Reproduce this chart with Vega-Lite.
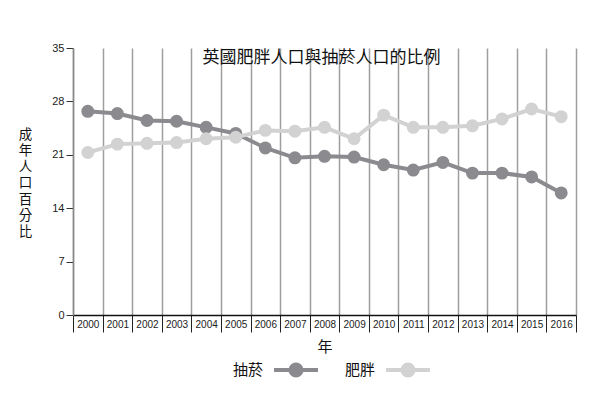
{
  "$schema": "https://vega.github.io/schema/vega-lite/v6.json",
  "width": 503,
  "height": 267,
  "autosize": {"type": "none"},
  "padding": {"left": 73, "top": 48, "right": 24, "bottom": 89},
  "background": "white",
  "title": {
    "text": "英國肥胖人口與抽菸人口的比例",
    "font": "Noto Sans CJK TC",
    "fontSize": 17,
    "fontWeight": "normal",
    "color": "#111111",
    "anchor": "middle",
    "offset": -25,
    "dx": -3
  },
  "config": {"view": {"stroke": null}, "font": "Liberation Sans"},
  "data": {
    "values": [
      {"year": "2000", "series": "抽菸", "value": 26.7},
      {"year": "2001", "series": "抽菸", "value": 26.4},
      {"year": "2002", "series": "抽菸", "value": 25.5},
      {"year": "2003", "series": "抽菸", "value": 25.4},
      {"year": "2004", "series": "抽菸", "value": 24.6},
      {"year": "2005", "series": "抽菸", "value": 23.8},
      {"year": "2006", "series": "抽菸", "value": 21.9},
      {"year": "2007", "series": "抽菸", "value": 20.6},
      {"year": "2008", "series": "抽菸", "value": 20.8},
      {"year": "2009", "series": "抽菸", "value": 20.7},
      {"year": "2010", "series": "抽菸", "value": 19.7},
      {"year": "2011", "series": "抽菸", "value": 19.0},
      {"year": "2012", "series": "抽菸", "value": 20.0},
      {"year": "2013", "series": "抽菸", "value": 18.6},
      {"year": "2014", "series": "抽菸", "value": 18.6},
      {"year": "2015", "series": "抽菸", "value": 18.1},
      {"year": "2016", "series": "抽菸", "value": 16.0},
      {"year": "2000", "series": "肥胖", "value": 21.3},
      {"year": "2001", "series": "肥胖", "value": 22.4},
      {"year": "2002", "series": "肥胖", "value": 22.5},
      {"year": "2003", "series": "肥胖", "value": 22.6},
      {"year": "2004", "series": "肥胖", "value": 23.1},
      {"year": "2005", "series": "肥胖", "value": 23.3},
      {"year": "2006", "series": "肥胖", "value": 24.2},
      {"year": "2007", "series": "肥胖", "value": 24.1},
      {"year": "2008", "series": "肥胖", "value": 24.6},
      {"year": "2009", "series": "肥胖", "value": 23.1},
      {"year": "2010", "series": "肥胖", "value": 26.2},
      {"year": "2011", "series": "肥胖", "value": 24.6},
      {"year": "2012", "series": "肥胖", "value": 24.6},
      {"year": "2013", "series": "肥胖", "value": 24.8},
      {"year": "2014", "series": "肥胖", "value": 25.7},
      {"year": "2015", "series": "肥胖", "value": 27.0},
      {"year": "2016", "series": "肥胖", "value": 26.0}
    ]
  },
  "encoding": {
    "x": {
      "field": "year",
      "type": "ordinal",
      "scale": {"type": "band", "paddingInner": 0, "paddingOuter": 0},
      "axis": {
        "title": "年",
        "titleFont": "Noto Sans CJK TC",
        "titleFontSize": 15,
        "titleFontWeight": "normal",
        "titleColor": "#111111",
        "titlePadding": 7,
        "tickBand": "extent",
        "grid": true,
        "gridColor": "#9e9e9e",
        "gridWidth": 1.5,
        "tickSize": 17,
        "tickColor": "#222222",
        "tickWidth": 1,
        "domainColor": "#111111",
        "domainWidth": 1.5,
        "labelAngle": 0,
        "labelFontSize": 10,
        "labelColor": "#222222",
        "labelPadding": -13
      }
    },
    "y": {
      "field": "value",
      "type": "quantitative",
      "scale": {"domain": [0, 35], "nice": false},
      "axis": {
        "values": [0, 7, 14, 21, 28, 35],
        "grid": false,
        "tickSize": 7,
        "tickColor": "#333333",
        "domainColor": "#888888",
        "domainWidth": 1.5,
        "labelFontSize": 11,
        "labelColor": "#222222",
        "labelPadding": 2,
        "title": ["成", "年", "人", "口", "百", "分", "比"],
        "titleFont": "Noto Sans CJK TC",
        "titleFontSize": 13.5,
        "titleFontWeight": "normal",
        "titleColor": "#111111",
        "titleAngle": 0,
        "titleAlign": "center",
        "titleBaseline": "middle",
        "titleLineHeight": 16.3,
        "titleX": -48,
        "titleY": 86
      }
    },
    "color": {
      "field": "series",
      "type": "nominal",
      "scale": {"domain": ["抽菸", "肥胖"], "range": ["#8b8b8f", "#d2d2d2"]},
      "legend": {
        "orient": "none",
        "legendX": 160,
        "legendY": 314.5,
        "direction": "horizontal",
        "title": null,
        "padding": 0,
        "labelFont": "Noto Sans CJK TC",
        "labelFontSize": 15,
        "labelColor": "#111111",
        "labelOffset": -15,
        "symbolOffset": 0,
        "symbolType": "M6.7,0L15.5,0M12.2,0A1.1,1.1,0,1,1,10,0A1.1,1.1,0,1,1,12.2,0Z",
        "symbolSize": 100,
        "symbolStrokeWidth": 4,
        "columnPadding": 19,
        "encode": {
          "symbols": {
            "update": {
              "fill": {"scale": "color", "field": "value"},
              "stroke": {"scale": "color", "field": "value"},
              "opacity": {"value": 1}
            }
          }
        }
      }
    }
  },
  "layer": [
    {
      "transform": [{"filter": "datum.series === '抽菸'"}],
      "mark": {"type": "line", "strokeWidth": 4, "point": {"filled": true, "size": 168, "opacity": 1}}
    },
    {
      "transform": [{"filter": "datum.series === '肥胖'"}],
      "mark": {"type": "line", "strokeWidth": 4, "point": {"filled": true, "size": 168, "opacity": 1}}
    }
  ]
}
